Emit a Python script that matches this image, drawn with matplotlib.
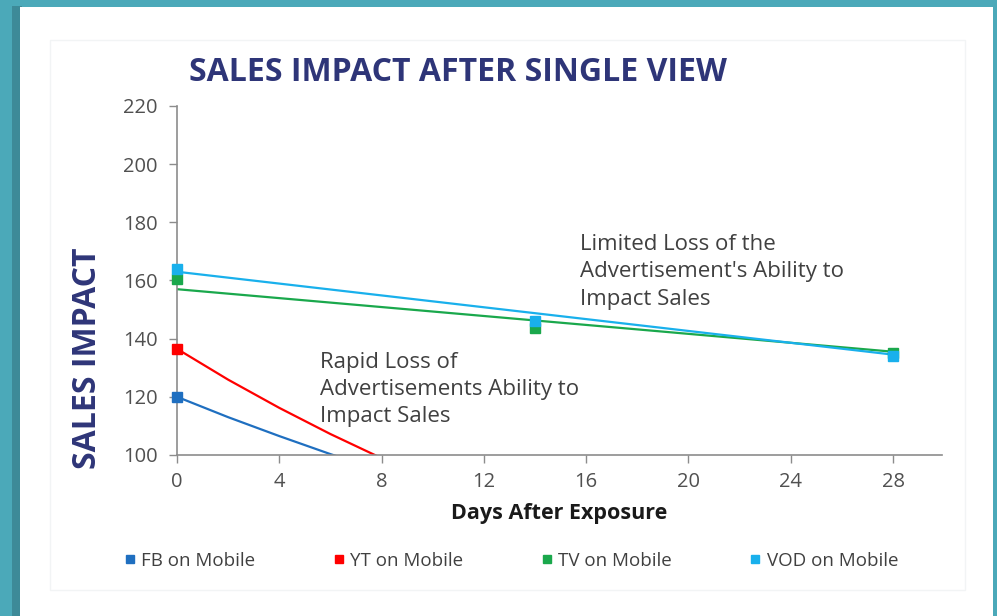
import matplotlib.pyplot as plt
from matplotlib.patches import Rectangle
from matplotlib.lines import Line2D

# marker data (days after exposure)
days = [0, 14, 28]
tv_vals = [160.5, 143.5, 135.0]
vod_vals = [164.0, 146.0, 134.0]
fb_days = [0]
fb_vals = [120.0]
yt_days = [0]
yt_vals = [136.5]

# trend lines as drawn in the chart
trend_days = [0, 28]
tv_trend = [157.0, 135.5]
vod_trend = [163.0, 134.5]
decay_days = [0, 2, 4, 6, 8, 10]
fb_trend = [120.0, 113.0, 106.5, 100.3, 94.5, 89.0]
yt_trend = [136.5, 125.9, 116.2, 107.2, 98.9, 91.2]

labels = ['FB on Mobile', 'YT on Mobile', 'TV on Mobile', 'VOD on Mobile']
colors = ['#1f6fc0', '#ff0000', '#1aa84c', '#19b0ec']

navy = '#2e3578'
grey_txt = '#404040'
axis_grey = '#8c8c8c'

fig = plt.figure(figsize=(9.97, 6.16), dpi=100)
fig.patch.set_facecolor('#4ba9b9')

# white panel with a soft shadow on the left
fig.add_artist(Rectangle((0.012, 0), 0.01, 0.99, transform=fig.transFigure,
                         facecolor='#3d8a98', edgecolor='none', zorder=0))
fig.add_artist(Rectangle((0.02, 0), 0.976, 0.989, transform=fig.transFigure,
                         facecolor='white', edgecolor='none', zorder=0))
fig.add_artist(Rectangle((0.05, 0.042), 0.918, 0.893, transform=fig.transFigure,
                         facecolor='none', edgecolor='#f2f4f5', lw=1, zorder=0))

ax = fig.add_axes([0.1775, 0.2614, 0.767, 0.5666])
ax.set_facecolor('none')

ax.plot(decay_days, fb_trend, color=colors[0], lw=1.6)
ax.plot(decay_days, yt_trend, color=colors[1], lw=1.6)
ax.plot(trend_days, tv_trend, color=colors[2], lw=1.6)
ax.plot(trend_days, vod_trend, color=colors[3], lw=1.6)

ax.plot(fb_days, fb_vals, 's', color=colors[0], ms=7, clip_on=False, zorder=5)
ax.plot(yt_days, yt_vals, 's', color=colors[1], ms=7, clip_on=False, zorder=5)
ax.plot(days, tv_vals, 's', color=colors[2], ms=7, clip_on=False, zorder=5)
ax.plot(days, vod_vals, 's', color=colors[3], ms=7, clip_on=False, zorder=6)

ax.set_xlim(0, 29.9)
ax.set_ylim(100, 220)
ax.set_xticks(range(0, 29, 4))
ax.set_yticks(range(100, 221, 20))

for s in ['top', 'right']:
    ax.spines[s].set_visible(False)
for s in ['left', 'bottom']:
    ax.spines[s].set_color(axis_grey)
    ax.spines[s].set_linewidth(1.2)
ax.tick_params(colors=axis_grey, labelcolor='#505050', labelsize=14.5,
               length=6, width=1)
ax.tick_params(axis='x', pad=6)
ax.tick_params(axis='y', pad=8)
for lab in ax.get_xticklabels() + ax.get_yticklabels():
    lab.set_family('Open Sans')

ax.set_xlabel('Days After Exposure', fontsize=15.5, fontweight='bold',
              family='Open Sans', color='#1a1a1a', labelpad=8)

ax.text(15.75, 163, "Limited Loss of the\nAdvertisement's Ability to\nImpact Sales",
        fontsize=16, color=grey_txt, family='Open Sans', va='center', ha='left',
        linespacing=1.4)
ax.text(5.59, 122.5, "Rapid Loss of\nAdvertisements Ability to\nImpact Sales",
        fontsize=16, color=grey_txt, family='Open Sans', va='center', ha='left',
        linespacing=1.4)

fig.text(0.19, 0.883, 'SALES IMPACT AFTER SINGLE VIEW', fontsize=23,
         fontweight='bold', color=navy, family='Open Sans', va='center', ha='left')
fig.text(0.088, 0.419, 'SALES IMPACT', fontsize=23, fontweight='bold', color=navy,
         family='Open Sans', rotation=90, va='center', ha='center')

handles = [Line2D([], [], marker='s', ls='none', color=c, ms=6) for c in colors]
fig.legend(handles, labels, loc='center', bbox_to_anchor=(0.511, 0.09), ncol=4,
           frameon=False, handletextpad=0.1, columnspacing=3.95, handlelength=1.0,
           prop={'family': 'Open Sans', 'size': 13.5}, labelcolor=grey_txt)

fig.savefig('out.png', dpi=100, facecolor=fig.get_facecolor())
